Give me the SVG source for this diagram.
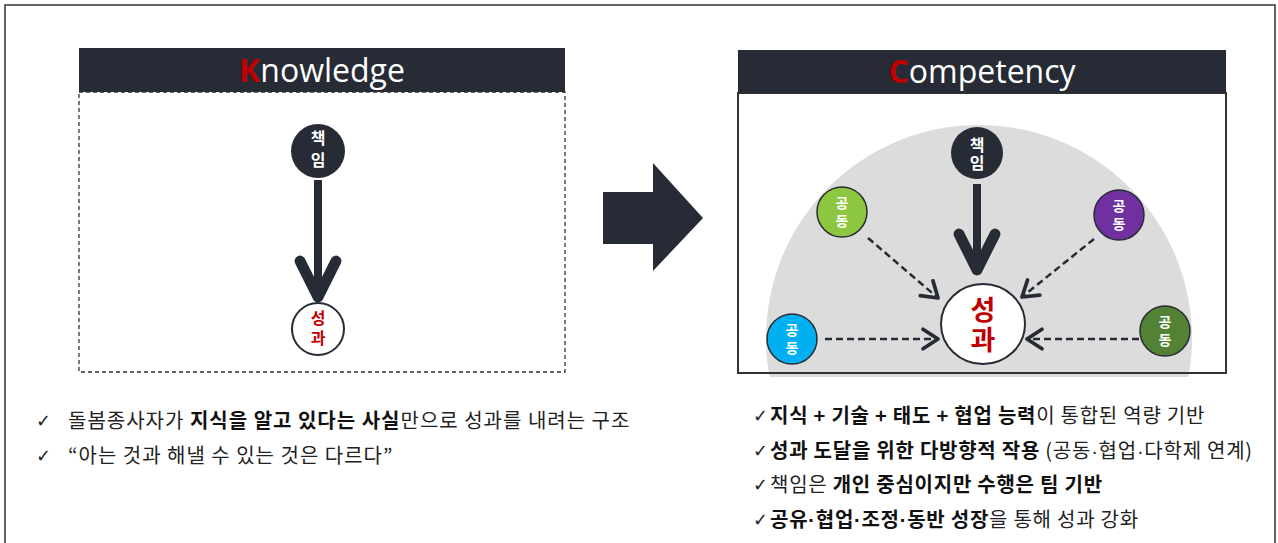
<svg xmlns="http://www.w3.org/2000/svg" width="1278" height="543" viewBox="0 0 1278 543">
<style>
.hdr{fill:#262b35}
.title{font-family:"Open Sans","Noto Sans",sans-serif;font-size:32px;fill:#ffffff;text-anchor:middle}
.red{fill:#c00000;font-weight:bold}
.nodeTxt{font-family:"Noto Sans CJK KR",sans-serif;font-weight:bold;text-anchor:middle;writing-mode:vertical-rl}
.bul{font-family:"Noto Sans CJK KR","Noto Sans",sans-serif;font-size:20px;fill:#222;letter-spacing:1px}
.bulR{letter-spacing:0.75px}
.b{font-weight:bold;fill:#111}
.dot{font-family:"Liberation Sans",sans-serif}
.chk{font-family:"DejaVu Sans",sans-serif;font-size:18px;fill:#222}
.dash{stroke:#262b35;stroke-width:2.5;stroke-dasharray:7 4;fill:none}
.solid{stroke:#262b35;stroke-width:8;fill:none}
.coop{stroke:#262b35;stroke-width:1.5}
</style>
<defs>
<marker id="bigHead" markerUnits="userSpaceOnUse" markerWidth="60" markerHeight="60" viewBox="-40 -25 50 50" refX="0" refY="0" orient="auto" overflow="visible">
<path d="M-30,-15 L0,0 L-30,15" fill="none" stroke="#262b35" stroke-width="9" stroke-linecap="round" stroke-linejoin="round"/>
</marker>
<marker id="smallHead" markerUnits="userSpaceOnUse" markerWidth="30" markerHeight="30" viewBox="-15 -10 20 20" refX="0" refY="0" orient="auto" overflow="visible">
<path d="M-10,-6.5 L0,0 L-10,6.5" fill="none" stroke="#262b35" stroke-width="2.5" stroke-linecap="round" stroke-linejoin="round"/>
</marker>
<clipPath id="discClip"><rect x="700" y="93" width="560" height="284"/></clipPath>
</defs>

<rect x="5" y="5" width="1270" height="560" fill="#ffffff" stroke="#333" stroke-width="1.5"/>

<g id="knowledge-panel">
<rect x="79" y="92" width="486" height="280" fill="#ffffff" stroke="#333" stroke-width="1.3" stroke-dasharray="4 3"/>
<rect class="hdr" x="79" y="48" width="486" height="44"/>
<text class="title" x="322" y="82"><tspan class="red">K</tspan>nowledge</text>
</g>

<g id="competency-panel">
<rect x="738" y="93" width="488" height="280" fill="#ffffff"/>
<circle cx="979" cy="338" r="213" fill="#dcdcdc" clip-path="url(#discClip)"/>
<rect x="738" y="93" width="488" height="280" fill="none" stroke="#333" stroke-width="2"/>
<rect class="hdr" x="738" y="50" width="488" height="43"/>
<text class="title" x="982" y="83"><tspan class="red">C</tspan>ompetency</text>
</g>

<g id="transition-arrow">
<path d="M603,192 H653 V163 L703,218 L653,271 V244 H603 Z" fill="#262b35"/>
</g>

<g id="connectors">
<line class="solid" x1="318" y1="180" x2="318" y2="297" marker-end="url(#bigHead)"/>
<line class="solid" x1="977" y1="184" x2="977" y2="270" stroke-width="9" marker-end="url(#bigHead)"/>
<line class="dash" x1="868" y1="238" x2="938" y2="298" marker-end="url(#smallHead)"/>
<line class="dash" x1="1094" y1="239" x2="1022" y2="297" marker-end="url(#smallHead)"/>
<line class="dash" x1="825" y1="339" x2="938" y2="339" marker-end="url(#smallHead)"/>
<line class="dash" x1="1139" y1="339" x2="1027" y2="339" marker-end="url(#smallHead)"/>
</g>

<g id="k-responsibility">
<circle cx="318" cy="151" r="27" fill="#262b35"/>
<text class="nodeTxt" x="318" y="152" font-size="16" letter-spacing="6" fill="#ffffff">책임</text>
</g>
<g id="k-result">
<circle cx="318" cy="329" r="26" fill="#ffffff" stroke="#262b35" stroke-width="2"/>
<text class="nodeTxt" x="318" y="330" font-size="16" letter-spacing="4" fill="#c00000">성과</text>
</g>

<g id="c-responsibility">
<circle cx="977" cy="153" r="26" fill="#262b35"/>
<text class="nodeTxt" x="977" y="155" font-size="16" letter-spacing="2" fill="#ffffff">책임</text>
</g>
<g id="c-result">
<ellipse cx="983" cy="324" rx="42" ry="40" fill="#ffffff" stroke="#262b35" stroke-width="2"/>
<text class="nodeTxt" x="983" y="326" font-size="27" letter-spacing="3" fill="#c00000">성과</text>
</g>

<g id="c-coop-green">
<circle class="coop" cx="842" cy="212" r="25" fill="#8dc63f"/>
<text class="nodeTxt" x="842" y="214" font-size="14" letter-spacing="4" fill="#ffffff">공동</text>
</g>
<g id="c-coop-purple">
<circle class="coop" cx="1119" cy="215" r="25" fill="#7030a0"/>
<text class="nodeTxt" x="1119" y="217" font-size="14" letter-spacing="4" fill="#ffffff">공동</text>
</g>
<g id="c-coop-blue">
<circle class="coop" cx="792" cy="339" r="25" fill="#00b0f0"/>
<text class="nodeTxt" x="792" y="341" font-size="14" letter-spacing="4" fill="#ffffff">공동</text>
</g>
<g id="c-coop-darkgreen">
<circle class="coop" cx="1165" cy="331" r="25" fill="#548235"/>
<text class="nodeTxt" x="1165" y="333" font-size="14" letter-spacing="4" fill="#ffffff">공동</text>
</g>

<g id="knowledge-notes">
<text class="chk" x="36" y="427">✓</text>
<text class="bul" x="68" y="428">돌봄종사자가 <tspan class="b">지식을 알고 있다는 사실</tspan>만으로 성과를 내려는 구조</text>
<text class="chk" x="36" y="462">✓</text>
<text class="bul" x="68" y="463">“아는 것과 해낼 수 있는 것은 다르다”</text>
</g>

<g id="competency-notes">
<text class="chk" x="753" y="422">✓</text>
<text class="bul bulR" x="770" y="423"><tspan class="b">지식 + 기술 + 태도 + 협업 능력</tspan>이 통합된 역량 기반</text>
<text class="chk" x="753" y="457">✓</text>
<text class="bul bulR" x="770" y="458"><tspan class="b">성과 도달을 위한 다방향적 작용</tspan> (공동<tspan class="dot">·</tspan>협업<tspan class="dot">·</tspan>다학제 연계)</text>
<text class="chk" x="753" y="491">✓</text>
<text class="bul bulR" x="770" y="492">책임은 <tspan class="b">개인 중심이지만 수행은 팀 기반</tspan></text>
<text class="chk" x="753" y="526">✓</text>
<text class="bul bulR" x="770" y="527"><tspan class="b">공유<tspan class="dot">·</tspan>협업<tspan class="dot">·</tspan>조정<tspan class="dot">·</tspan>동반 성장</tspan>을 통해 성과 강화</text>
</g>
</svg>
